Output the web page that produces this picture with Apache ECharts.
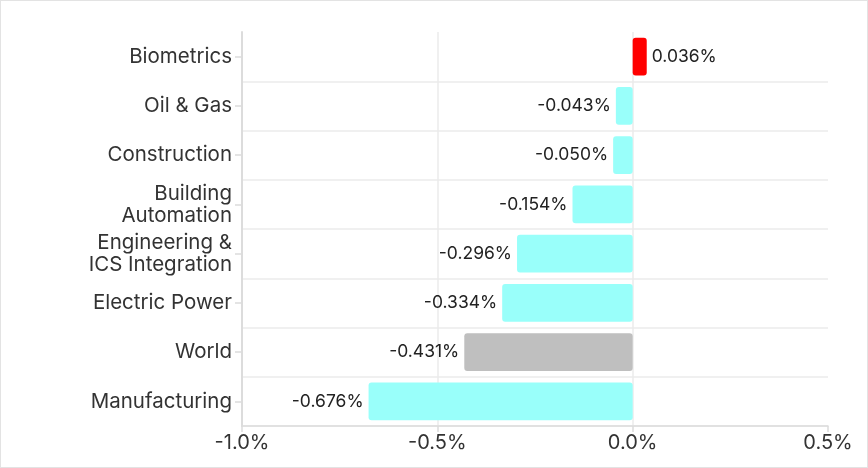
<!DOCTYPE html>
<html>
<head>
<meta charset="utf-8">
<script src="https://cdn.jsdelivr.net/npm/echarts@6/dist/echarts.min.js"></script>
<style>
html,body{margin:0;padding:0;background:#fff;}
#c{width:868px;height:468px;box-sizing:border-box;border:1px solid #e3e3e3;}
</style>
</head>
<body>
<div id="c"></div>
<script>
// Data (top to bottom in the picture)
const categories = ['Biometrics', 'Oil & Gas', 'Construction', 'Building\nAutomation', 'Engineering &\nICS Integration', 'Electric Power', 'World', 'Manufacturing'];
const values = [0.036, -0.043, -0.050, -0.154, -0.296, -0.334, -0.431, -0.676];
const barColors = ['#ff0000', '#99fffa', '#99fffa', '#99fffa', '#99fffa', '#99fffa', '#bfbfbf', '#99fffa'];
const xTicks = [-1.0, -0.5, 0.0, 0.5];

const chart = echarts.init(document.getElementById('c'), null, {renderer: 'canvas'});
const font = 'Inter, Roboto, "Noto Sans", sans-serif';

const cats = categories.slice().reverse();
const data = values.map((v, i) => ({
  value: v,
  itemStyle: {color: barColors[i]},
  label: {position: v >= 0 ? 'right' : 'left'}
})).reverse();

chart.setOption({
  animation: false,
  grid: {left: 241, right: 39, top: 31, bottom: 41},
  xAxis: {
    type: 'value',
    min: xTicks[0],
    max: xTicks[xTicks.length - 1],
    interval: 0.5,
    axisLine: {show: true, lineStyle: {color: '#dcdcdc', width: 1.5}},
    axisTick: {show: true, length: 6, lineStyle: {color: '#dcdcdc', width: 1.5}},
    axisLabel: {
      formatter: v => v.toFixed(1) + '%',
      color: '#333', fontSize: 20, fontFamily: font, margin: 7
    },
    splitLine: {show: true, showMinLine: false, showMaxLine: false, lineStyle: {color: '#ebebeb', width: 1.5}}
  },
  yAxis: {
    type: 'category',
    data: cats,
    axisLine: {show: true, onZero: false, lineStyle: {color: '#dcdcdc', width: 2}},
    axisTick: {show: true, alignWithLabel: true, length: 7, lineStyle: {color: '#dcdcdc', width: 1.5}},
    axisLabel: {color: '#333', fontSize: 20.5, lineHeight: 22, fontFamily: font, margin: 10, padding: [3, 0, 0, 0]},
    splitLine: {show: true, showMaxLine: false, lineStyle: {color: '#ebebeb', width: 1.5}}
  },
  series: [{
    type: 'bar',
    data: data,
    barCategoryGap: '23%',
    itemStyle: {borderRadius: 3},
    label: {
      show: true,
      distance: 5,
      formatter: p => p.value.toFixed(3) + '%',
      color: '#222', fontSize: 17.5, fontFamily: font
    }
  }]
});
</script>
</body>
</html>
